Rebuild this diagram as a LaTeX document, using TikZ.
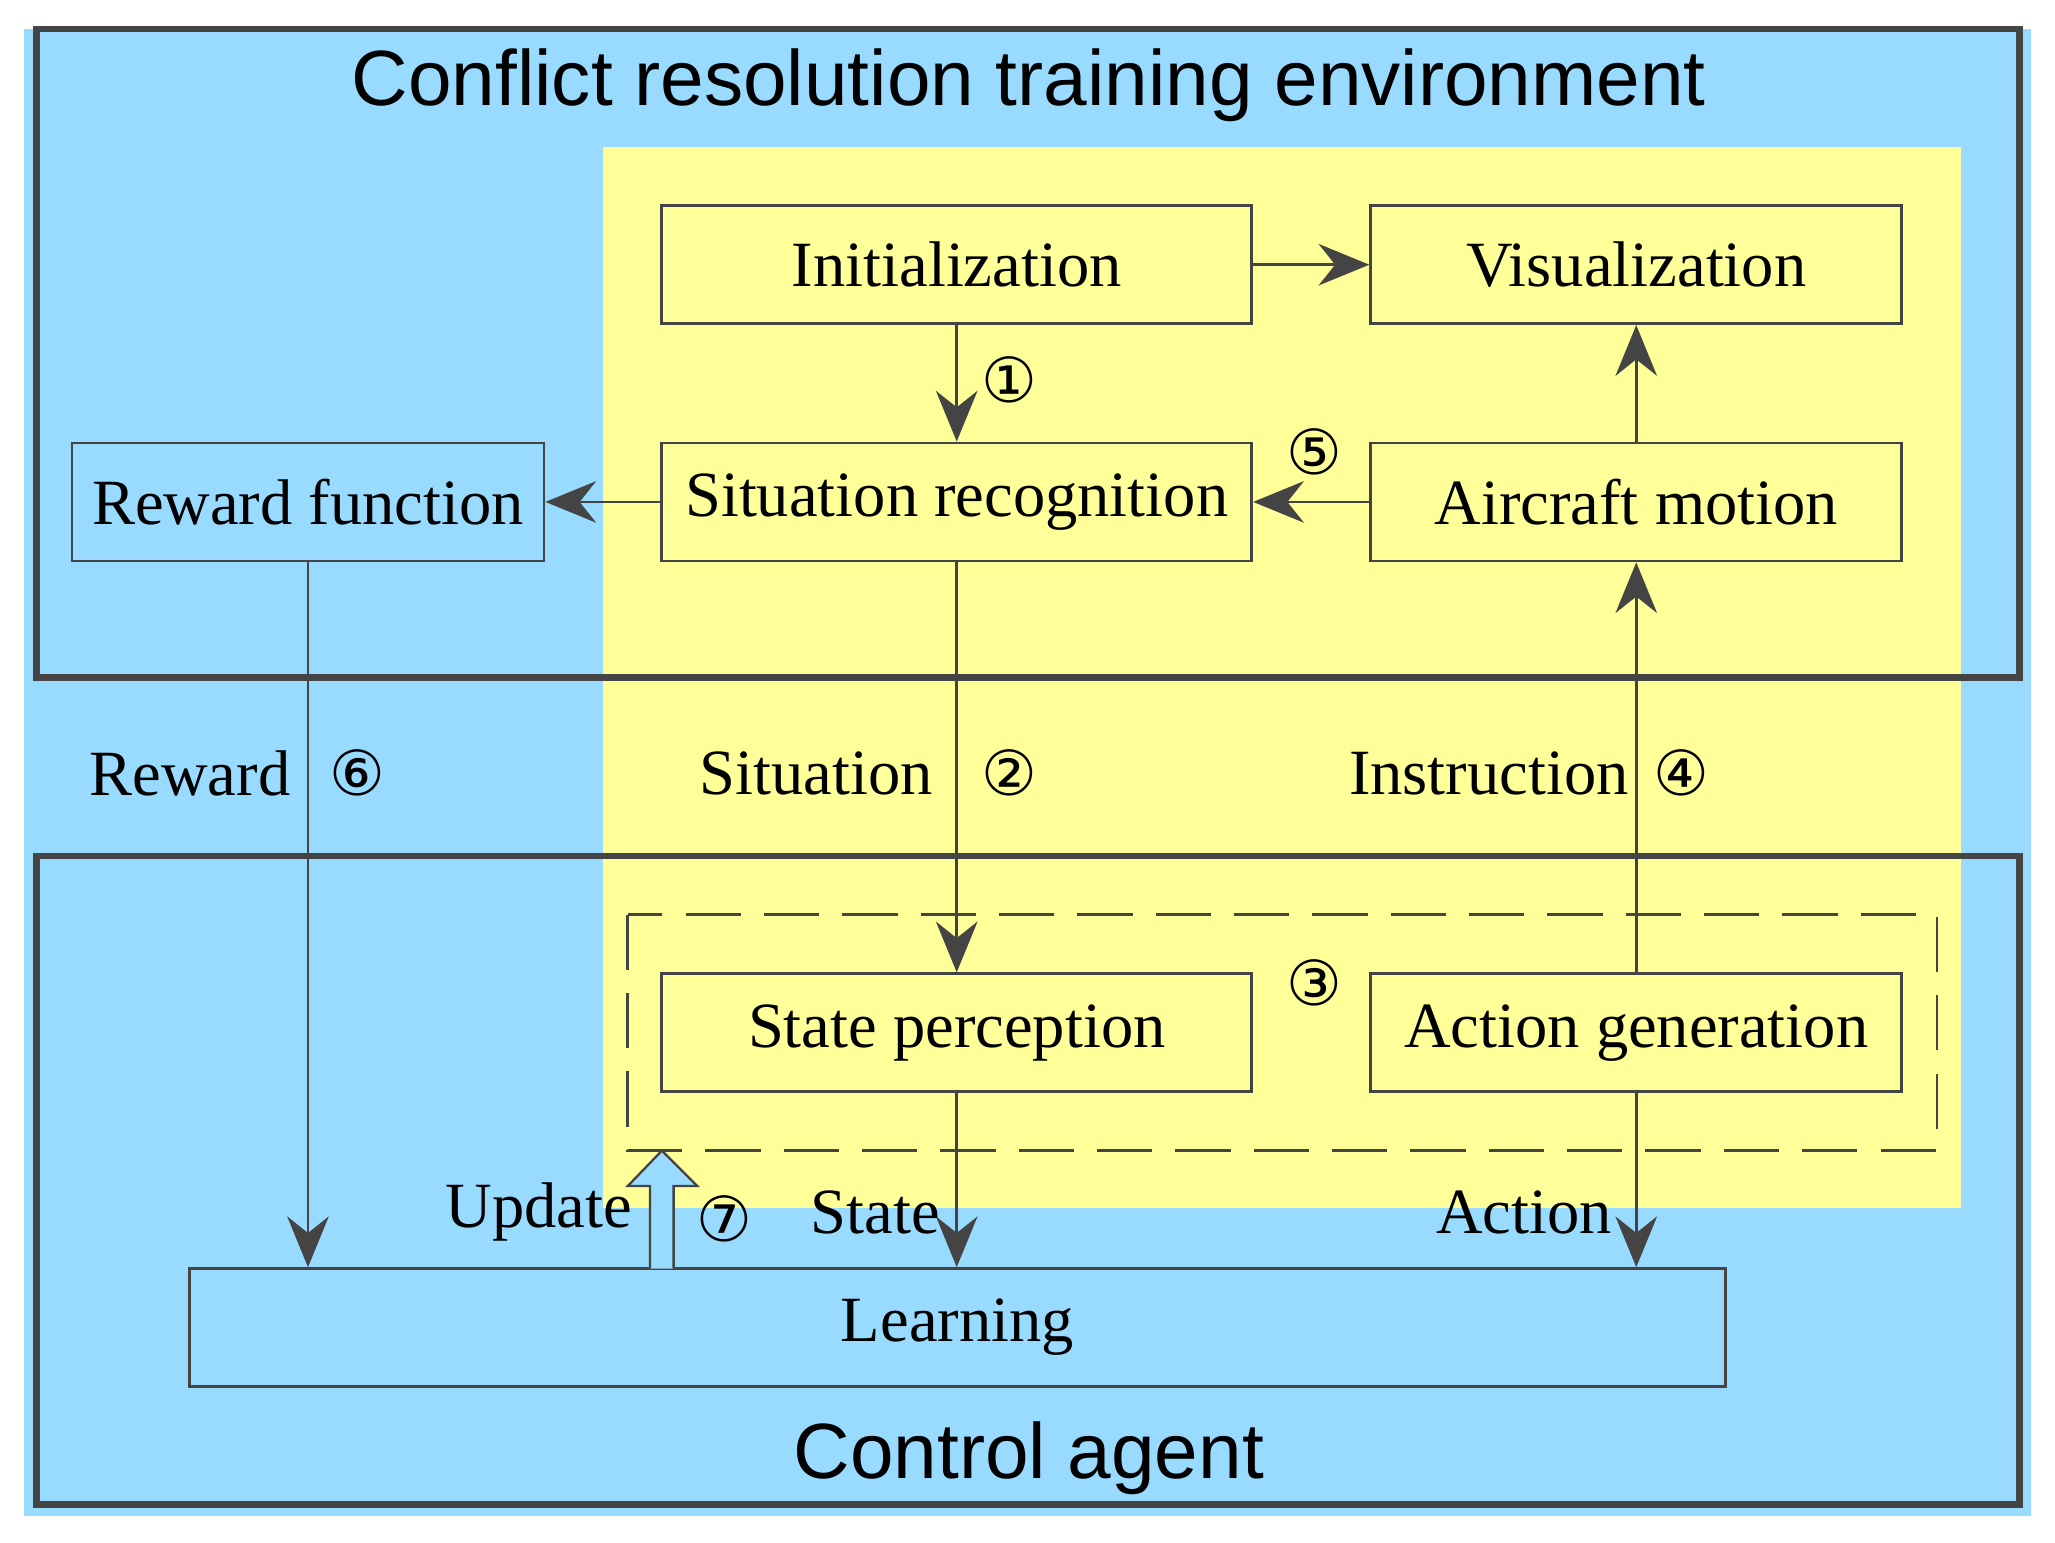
\documentclass[tikz,border=0pt]{standalone}
\usepackage{fontspec}
\setmainfont{Liberation Serif}
\newfontfamily\sansf{Liberation Sans}
\newfontfamily\numf{DejaVu Sans}
\usetikzlibrary{arrows.meta}
\definecolor{bgblue}{HTML}{99DBFF}
\definecolor{ylw}{HTML}{FFFF99}
\definecolor{ln}{HTML}{444444}
\begin{document}
\begin{tikzpicture}[x=0.01cm,y=-0.01cm,
  box/.style={draw=ln,line width=0.6pt,fill=ylw,minimum width=4.5cm,minimum height=0.9cm,inner sep=0,font=\fontsize{14}{16}\selectfont},
  wbox/.style={box,minimum width=4.05cm},
  arr/.style={draw=ln,line width=0.6pt,-{Stealth[length=11pt,width=9pt]}},
  lbl/.style={font=\fontsize{14}{16}\selectfont,inner sep=0},
  num/.style={font=\numf\fontsize{13.5}{15}\selectfont,inner sep=0},
  frame/.style={draw=ln,line width=1.4pt}]
\useasboundingbox (0,0) rectangle (1568,1177);
\fill[bgblue] (18,22) rectangle (1550,1157);
\fill[ylw] (460,112) rectangle (1496,922);
\draw[frame] (28,22) rectangle (1541,517);
\draw[frame] (28,653) rectangle (1541,1148);
\draw[ln,line width=0.6pt,dash pattern=on 12pt off 5pt] (479,698) rectangle (1478,878);
\node[font=\sansf\fontsize{17}{19}\selectfont] (title) at (785,65) {Conflict resolution training environment};
\node[font=\sansf\fontsize{17}{19}\selectfont] (ctrl) at (785,1113) {Control agent};
\node[box] (init) at (730,202) {Initialization};
\node[wbox] (vis) at (1248.5,202) {Visualization};
\node[box,fill=bgblue,minimum width=3.6cm] (rew) at (235,383) {Reward function};
\node[box] (sr) at (730,383) {Situation recognition};
\node[wbox] (am) at (1248.5,383) {Aircraft motion};
\node[box] (sp) at (730,788) {State perception};
\node[wbox] (ag) at (1248.5,788) {Action generation};
\node[box,fill=bgblue,minimum width=11.71cm] (learn) at (730.5,1013) {Learning};
\draw[arr] (init) -- (vis);
\draw[arr] (init) -- (sr);
\draw[arr] (am) -- (sr);
\draw[arr] (sr) -- (rew);
\draw[arr] (am) -- (vis);
\draw[arr] (sr) -- (sp);
\draw[arr] (ag) -- (am);
\draw[arr] (rew.south) -- (rew.south |- learn.north);
\draw[arr] (sp) -- (learn.north -| sp.south);
\draw[arr] (ag) -- (learn.north -| ag.south);
\coordinate (upd) at (505,878);
\draw[ln,line width=0.5pt,fill=bgblue] (496,968) -- (496,905) -- (479,905) -- (upd) -- (532,905) -- (514,905) -- (514,968);
\node[num] (n1) at (770,290) {①};
\node[num] (n5) at (1003,345) {⑤};
\node[num] (n2) at (770,590) {②};
\node[num] (n4) at (1283,590) {④};
\node[num] (n6) at (273,590) {⑥};
\node[num] (n3) at (1003,750) {③};
\node[num] (n7) at (553,930) {⑦};
\node[lbl] (l1) at (145,590) {Reward};
\node[lbl] (l2) at (623,590) {Situation};
\node[lbl] (l3) at (1136,590) {Instruction};
\node[lbl] (l4) at (411,925) {Update};
\node[lbl] (l5) at (668,925) {State};
\node[lbl] (l6) at (1163,925) {Action};
\end{tikzpicture}
\end{document}
